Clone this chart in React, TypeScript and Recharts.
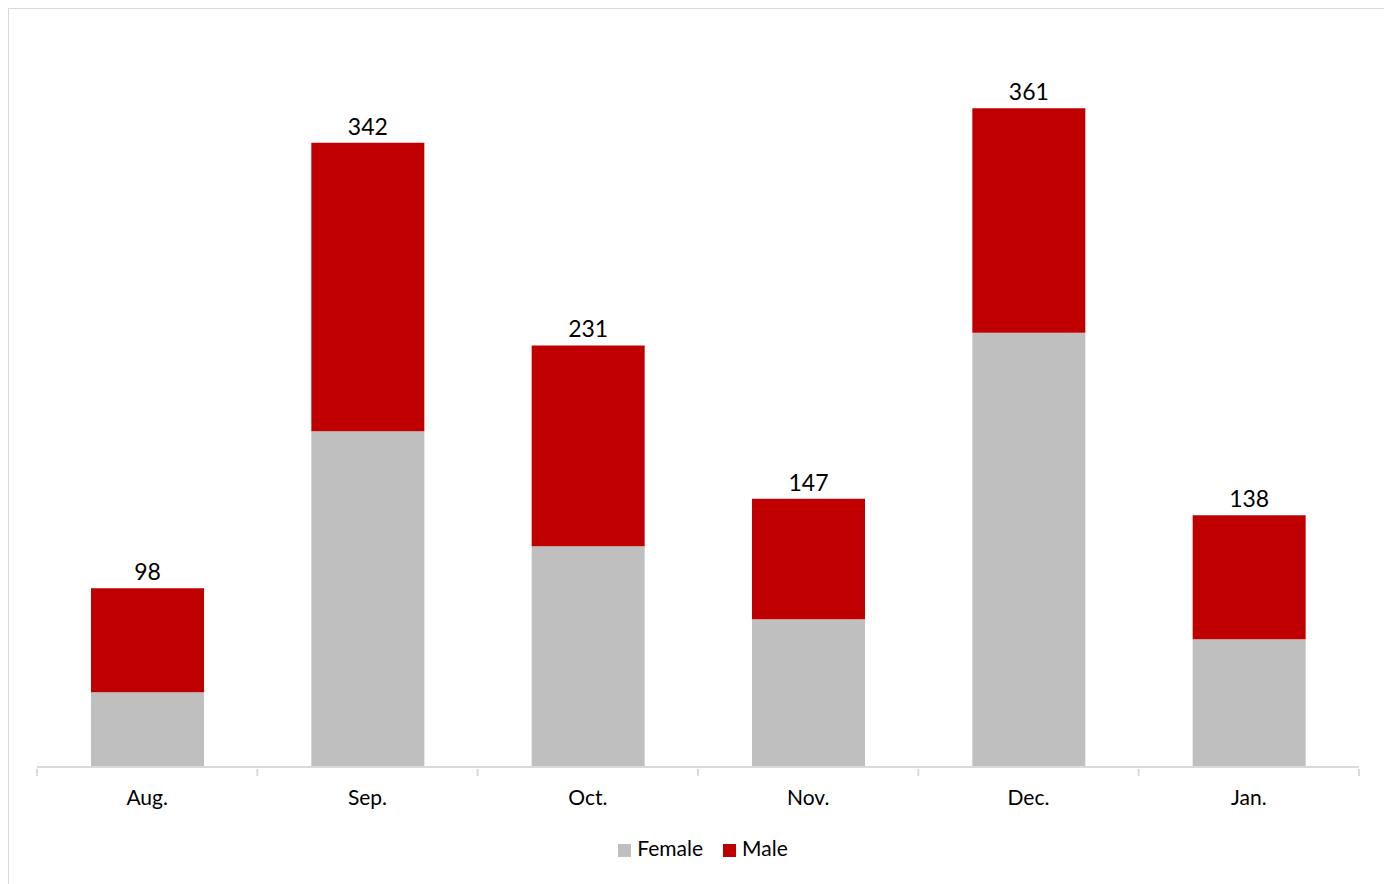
import React from "react";
import { BarChart, Bar, XAxis, YAxis, Legend, LabelList } from "recharts";

const months = ["Aug.", "Sep.", "Oct.", "Nov.", "Dec.", "Jan."];
const female = [41, 184, 121, 81, 238, 70];
const male = [57, 158, 110, 66, 123, 68];
const totals = [98, 342, 231, 147, 361, 138];

const data = months.map((m, i) => ({ month: m, Female: female[i], Male: male[i], total: totals[i] }));

const FONT = "Lato, 'Open Sans', sans-serif";
const BAND = (1379 - 28 - 29) / months.length;

const Tick = (props: any) => {
  const { x, y, payload, index } = props;
  const last = index === months.length - 1;
  return (
    <g>
      <line x1={x - BAND / 2} x2={x - BAND / 2} y1={y} y2={y + 7} stroke="#d9d9d9" strokeWidth={2} />
      {last && <line x1={x + BAND / 2} x2={x + BAND / 2} y1={y} y2={y + 7} stroke="#d9d9d9" strokeWidth={2} />}
      <text x={x} y={y + 36} textAnchor="middle" fontSize={21} fill="#000" fontFamily={FONT}>
        {payload.value}
      </text>
    </g>
  );
};

export default function App() {
  return (
    <div style={{ width: 1379, height: 880, border: "1px solid #d9d9d9", background: "#fff" }}>
      <BarChart
        width={1379}
        height={878}
        data={data}
        margin={{ top: 28, right: 29, left: 28, bottom: 27 }}
        barSize={113}
      >
        <XAxis
          dataKey="month"
          axisLine={{ stroke: "#d9d9d9", strokeWidth: 2 }}
          tickLine={false}
          tickSize={0}
          tick={<Tick />}
          height={68}
        />
        <YAxis hide domain={[0, 400]} />
        <Legend
          verticalAlign="bottom"
          align="center"
          iconType="square"
          iconSize={13}
          wrapperStyle={{ fontFamily: FONT, fontSize: 21, color: "#000", paddingLeft: 20, boxSizing: "border-box" }}
          formatter={(v: string) => (
            <span style={{ color: "#000", marginLeft: 2, marginRight: v === "Female" ? 10 : 0 }}>{v}</span>
          )}
        />
        <Bar dataKey="Female" stackId="a" fill="#bfbfbf" isAnimationActive={false} />
        <Bar dataKey="Male" stackId="a" fill="#c00000" isAnimationActive={false}>
          <LabelList dataKey="total" position="top" offset={8} fill="#000" fontSize={23} fontFamily={FONT} />
        </Bar>
      </BarChart>
    </div>
  );
}
